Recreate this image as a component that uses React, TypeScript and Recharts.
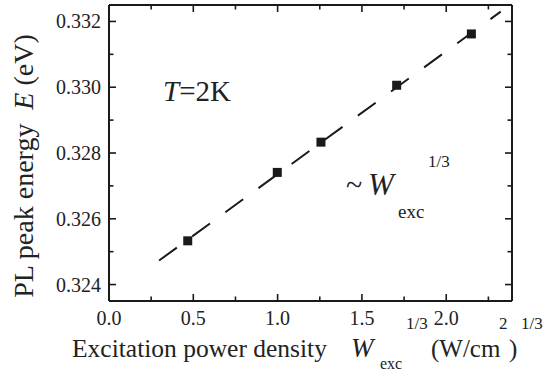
import { ComposedChart, Scatter, Line, XAxis, YAxis, Customized } from 'recharts';

// measured points: W_exc^(1/3) vs PL peak energy (eV)
const excW = [0.467, 0.998, 1.257, 1.706, 2.149];
const peakE = [0.32533, 0.32741, 0.32833, 0.33006, 0.33162];

// ~ W^(1/3) fit, dashed, drawn between its two end points
const fitW = [0.297, 2.323];
const fitE = [0.32473, 0.3323];

const xTicks = [0, 0.25, 0.5, 0.75, 1, 1.25, 1.5, 1.75, 2, 2.25];
const yTicks = [0.324, 0.325, 0.326, 0.327, 0.328, 0.329, 0.33, 0.331, 0.332];

const points = excW.map((w, i) => ({ w, e: peakE[i] }));
const fit = fitW.map((w, i) => ({ w, e: fitE[i] }));

const INK = '#1a1a1a';
const FONT = 'Liberation Serif';
const serif = { fontFamily: FONT };
const MAJOR = 7;
const MINOR = 4.5;

const isMajorX = (v: number) => Math.round(v * 100) % 50 === 0;
const isMajorY = (v: number) => Math.round(v * 1000) % 2 === 0;

const BottomTick = (props: any) => {
  const { x, y, payload } = props;
  const major = isMajorX(payload.value);
  return (
    <g>
      <line x1={x} x2={x} y1={y} y2={y - (major ? MAJOR : MINOR)} stroke={INK} strokeWidth={1.6} />
      {major && (
        <text x={x} y={y + 24} textAnchor="middle" fontSize={20} style={serif} fill="#222">
          {payload.value.toFixed(1)}
        </text>
      )}
    </g>
  );
};

const TopTick = (props: any) => {
  const { x, y, payload } = props;
  const major = isMajorX(payload.value);
  return <line x1={x} x2={x} y1={y} y2={y + (major ? MAJOR : MINOR)} stroke={INK} strokeWidth={1.6} />;
};

const LeftTick = (props: any) => {
  const { x, y, payload } = props;
  const major = isMajorY(payload.value);
  return (
    <g>
      <line x1={x} x2={x + (major ? MAJOR : MINOR)} y1={y} y2={y} stroke={INK} strokeWidth={1.6} />
      {major && (
        <text x={x - 8} y={y + 7} textAnchor="end" fontSize={20} style={serif} fill="#222">
          {payload.value.toFixed(3)}
        </text>
      )}
    </g>
  );
};

const RightTick = (props: any) => {
  const { x, y, payload } = props;
  const major = isMajorY(payload.value);
  return <line x1={x} x2={x - (major ? MAJOR : MINOR)} y1={y} y2={y} stroke={INK} strokeWidth={1.6} />;
};

const Square = (props: any) => {
  const { cx, cy } = props;
  return <rect x={cx - 4.5} y={cy - 4.5} width={9} height={9} fill={INK} />;
};

const Labels = () => (
  <g style={serif} fill="#222">
    <text x={163} y={101} fontSize={29} style={serif}>
      <tspan fontStyle="italic">T</tspan>
      <tspan>=2K</tspan>
    </text>

    <text x={346} y={195} fontSize={30} style={serif}>~</text>
    <text x={368} y={195} fontSize={31} fontStyle="italic" style={serif}>W</text>
    <text x={398} y={218} fontSize={19} style={serif}>exc</text>
    <text x={428} y={167} fontSize={17} style={serif}>1/3</text>

    <text
      transform="translate(33,166) rotate(-90)"
      textAnchor="middle"
      fontSize={28}
      style={{ ...serif, whiteSpace: 'pre' }}
    >
      <tspan>PL peak energy  </tspan>
      <tspan fontStyle="italic">E</tspan>
      <tspan> (eV)</tspan>
    </text>

    <text x={72} y={357} fontSize={25.5} style={serif}>Excitation power density</text>
    <text x={351} y={357} fontSize={27} fontStyle="italic" style={serif}>W</text>
    <text x={380} y={369} fontSize={16} style={serif}>exc</text>
    <text x={406} y={329} fontSize={17} style={serif}>1/3</text>
    <text x={431} y={357} fontSize={25} style={serif}>(W/cm</text>
    <text x={499} y={329} fontSize={17} style={serif}>2</text>
    <text x={509} y={357} fontSize={25} style={serif}>)</text>
    <text x={521} y={329} fontSize={17} style={serif}>1/3</text>
  </g>
);

export default function App() {
  return (
    <div style={{ position: 'absolute', left: 0, top: 0, width: 554, height: 373, background: '#fff', fontFamily: FONT }}>
      <ComposedChart width={554} height={373} margin={{ top: 0, right: 32, bottom: 42, left: 49 }}>
        <XAxis
          xAxisId="bottom"
          dataKey="w"
          type="number"
          domain={[0, 2.39]}
          allowDataOverflow
          ticks={xTicks}
          interval={0}
          height={30}
          tickSize={0}
          tickMargin={0}
          tickLine={false}
          tick={BottomTick}
          axisLine={{ stroke: INK, strokeWidth: 2 }}
        />
        <XAxis
          xAxisId="top"
          orientation="top"
          dataKey="w"
          type="number"
          domain={[0, 2.39]}
          allowDataOverflow
          ticks={xTicks}
          interval={0}
          height={5}
          tickSize={0}
          tickMargin={0}
          tickLine={false}
          tick={TopTick}
          axisLine={{ stroke: INK, strokeWidth: 2 }}
        />
        <YAxis
          yAxisId="left"
          dataKey="e"
          type="number"
          domain={[0.3235, 0.3325]}
          allowDataOverflow
          ticks={yTicks}
          interval={0}
          width={60}
          tickSize={0}
          tickMargin={0}
          tickLine={false}
          tick={LeftTick}
          axisLine={{ stroke: INK, strokeWidth: 2 }}
        />
        <YAxis
          yAxisId="right"
          orientation="right"
          dataKey="e"
          type="number"
          domain={[0.3235, 0.3325]}
          allowDataOverflow
          ticks={yTicks}
          interval={0}
          width={10}
          tickSize={0}
          tickMargin={0}
          tickLine={false}
          tick={RightTick}
          axisLine={{ stroke: INK, strokeWidth: 2 }}
        />
        <Line
          xAxisId="top"
          yAxisId="right"
          data={fit}
          dataKey="e"
          type="linear"
          stroke={INK}
          strokeWidth={2}
          strokeDasharray="22 19"
          dot={false}
          activeDot={false}
          isAnimationActive={false}
        />
        <Scatter
          xAxisId="bottom"
          yAxisId="left"
          data={points}
          dataKey="e"
          shape={Square}
          isAnimationActive={false}
        />
        <Customized component={Labels} />
      </ComposedChart>
    </div>
  );
}
